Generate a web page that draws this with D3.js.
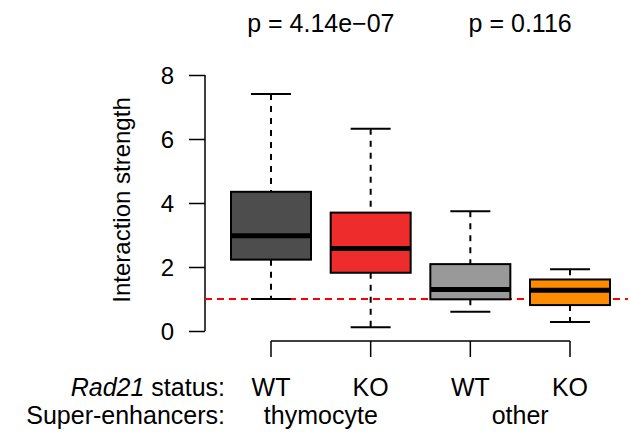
<!DOCTYPE html>
<html>
<head>
<meta charset="utf-8">
<script src="https://cdn.jsdelivr.net/npm/d3@7"></script>
<style>
  body { margin: 0; background: #fff; }
  svg text { font-family: "Liberation Sans", Arial, sans-serif; font-size: 25px; fill: #000; }
</style>
</head>
<body>
<svg id="chart" width="630" height="437"></svg>
<script>
// values
const boxIds = ["thy_WT", "thy_KO", "oth_WT", "oth_KO"];
const statusLabels = ["WT", "KO", "WT", "KO"];
const boxColors = ["#4d4d4d", "#ee2c2c", "#999999", "#ff8c00"];
const lowerWhisker = [1.0, 0.12, 0.6, 0.28];
const q1 = [2.23, 1.82, 0.99, 0.81];
const medians = [2.98, 2.58, 1.3, 1.27];
const q3 = [4.35, 3.7, 2.09, 1.61];
const upperWhisker = [7.41, 6.32, 3.74, 1.93];
const groupLabels = ["thymocyte", "other"];
const pValues = ["p = 4.14e\u221207", "p = 0.116"];
const yTicks = [0, 2, 4, 6, 8];
const refLine = 1;

const svg = d3.select("#chart");

const y = d3.scaleLinear().domain([0, 8]).range([331, 75]);
const x = d3.scalePoint().domain(boxIds).range([271, 570]);
const boxW = 80;
const capW = 40;

// y axis
const yAxis = svg.append("g").attr("transform", "translate(205,0)")
  .call(d3.axisLeft(y).tickValues(yTicks).tickSize(16).tickPadding(15));
yAxis.select(".domain").attr("d", "M0," + y(8) + "V" + y(0)).attr("stroke-width", 1.5);
yAxis.selectAll(".tick line").attr("stroke-width", 1.5);
yAxis.selectAll("text").style("font-size", "24px").attr("dy", "0.36em");

svg.append("text")
  .attr("transform", "translate(130," + (y(4) - 3) + ") rotate(-90)")
  .attr("text-anchor", "middle")
  .style("font-size", "24px")
  .text("Interaction strength");

// reference line
svg.append("line")
  .attr("x1", 205).attr("x2", 628)
  .attr("y1", y(refLine)).attr("y2", y(refLine))
  .attr("stroke", "red").attr("stroke-width", 2)
  .attr("stroke-dasharray", "7,5");

const boxes = svg.append("g").selectAll("g").data(boxIds).join("g");

// whiskers
boxes.append("line")
  .attr("x1", d => x(d)).attr("x2", d => x(d))
  .attr("y1", (d, i) => y(upperWhisker[i])).attr("y2", (d, i) => y(q3[i]))
  .attr("stroke", "#000").attr("stroke-width", 2).attr("stroke-dasharray", "6,6");
boxes.append("line")
  .attr("x1", d => x(d)).attr("x2", d => x(d))
  .attr("y1", (d, i) => y(q1[i])).attr("y2", (d, i) => y(lowerWhisker[i]))
  .attr("stroke", "#000").attr("stroke-width", 2).attr("stroke-dasharray", "6,6");
boxes.append("line")
  .attr("x1", d => x(d) - capW / 2).attr("x2", d => x(d) + capW / 2)
  .attr("y1", (d, i) => y(upperWhisker[i])).attr("y2", (d, i) => y(upperWhisker[i]))
  .attr("stroke", "#000").attr("stroke-width", 2);
boxes.append("line")
  .attr("x1", d => x(d) - capW / 2).attr("x2", d => x(d) + capW / 2)
  .attr("y1", (d, i) => y(lowerWhisker[i])).attr("y2", (d, i) => y(lowerWhisker[i]))
  .attr("stroke", "#000").attr("stroke-width", 2);

// boxes
boxes.append("rect")
  .attr("x", d => x(d) - boxW / 2).attr("width", boxW)
  .attr("y", (d, i) => y(q3[i])).attr("height", (d, i) => y(q1[i]) - y(q3[i]))
  .attr("fill", (d, i) => boxColors[i])
  .attr("stroke", "#000").attr("stroke-width", 2);
boxes.append("line")
  .attr("x1", d => x(d) - boxW / 2).attr("x2", d => x(d) + boxW / 2)
  .attr("y1", (d, i) => y(medians[i])).attr("y2", (d, i) => y(medians[i]))
  .attr("stroke", "#000").attr("stroke-width", 5);

// bracket under boxes
const bracketY = 341;
svg.append("line")
  .attr("x1", x(boxIds[0])).attr("x2", x(boxIds[3]))
  .attr("y1", bracketY).attr("y2", bracketY)
  .attr("stroke", "#000").attr("stroke-width", 1.5);
svg.append("g").selectAll("line").data(boxIds).join("line")
  .attr("x1", d => x(d)).attr("x2", d => x(d))
  .attr("y1", bracketY).attr("y2", bracketY + 16)
  .attr("stroke", "#000").attr("stroke-width", 1.5);

// status labels
svg.append("g").selectAll("text").data(boxIds).join("text")
  .attr("x", d => x(d)).attr("y", 396)
  .attr("text-anchor", "middle")
  .text((d, i) => statusLabels[i]);

// group labels + p values, centred between pairs
const groupCenters = [
  (x(boxIds[0]) + x(boxIds[1])) / 2,
  (x(boxIds[2]) + x(boxIds[3])) / 2
];
svg.append("g").selectAll("text").data(groupLabels).join("text")
  .attr("x", (d, i) => groupCenters[i]).attr("y", 424)
  .attr("text-anchor", "middle")
  .text(d => d);
svg.append("g").selectAll("text").data(pValues).join("text")
  .attr("x", (d, i) => groupCenters[i]).attr("y", 32)
  .attr("text-anchor", "middle")
  .text(d => d);

// row labels
const statusRow = svg.append("text").attr("x", 225).attr("y", 396).attr("text-anchor", "end");
statusRow.append("tspan").style("font-style", "italic").text("Rad21");
statusRow.append("tspan").text(" status:");
svg.append("text").attr("x", 225).attr("y", 424).attr("text-anchor", "end").text("Super-enhancers:");
</script>
</body>
</html>
